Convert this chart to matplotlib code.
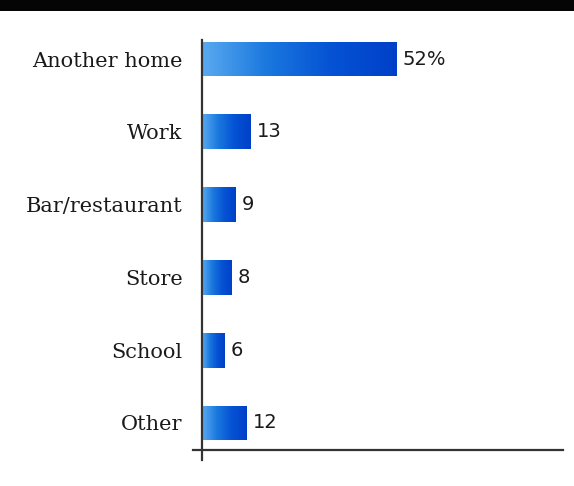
import matplotlib.pyplot as plt
import numpy as np
from matplotlib.patches import Rectangle
from matplotlib.colors import LinearSegmentedColormap

# data
places = ['Another home', 'Work', 'Bar/restaurant', 'Store', 'School', 'Other']
shares = [52, 13, 9, 8, 6, 12]
value_labels = ['52%', '13', '9', '8', '6', '12']

W, H = 574, 486
fig = plt.figure(figsize=(W / 100, H / 100), dpi=100)

# black band along the top edge
fig.patches.append(Rectangle((0, 1 - 11 / H), 1, 11 / H, transform=fig.transFigure,
                             facecolor='#050505', edgecolor='none', zorder=0))

ax = fig.add_axes([202 / W, 1 - 450 / H, (563 - 202) / W, (450 - 40) / H])

y = np.arange(len(places))
bars = ax.barh(y, shares, height=0.48, color='#1466d6', edgecolor='none', zorder=2)

# left-to-right blue gradient inside each bar
grad = LinearSegmentedColormap.from_list('blu', ['#5aaaf0', '#1a78de', '#0552d4', '#0040c8'])
ramp = np.linspace(0, 1, 256).reshape(1, -1)
for b in bars:
    x0, y0 = b.get_x(), b.get_y()
    im = ax.imshow(ramp, cmap=grad, aspect='auto', zorder=3,
                   extent=(x0, x0 + b.get_width(), y0 + b.get_height(), y0))
    im.set_clip_path(b)

for b, lab in zip(bars, value_labels):
    ax.text(b.get_width() + 1.6, b.get_y() + b.get_height() / 2, lab,
            va='center', ha='left', fontsize=14, color='#1a1a1a',
            family='DejaVu Sans')

ax.set_xlim(0, 96.3)
ax.set_ylim(5.371, -0.261)
ax.set_yticks(y)
ax.set_yticklabels(places, family='DejaVu Serif', fontsize=15, color='#1a1a1a')
ax.set_xticks([])
ax.tick_params(axis='y', length=0, pad=14)

for s in ax.spines.values():
    s.set_visible(False)

# axis lines, crossing at the origin
ax.plot([0, 0], [-10 / 410, 1], transform=ax.transAxes, color='#333333',
        lw=1.6, clip_on=False, zorder=4)
ax.plot([-9 / 361, 1], [0, 0], transform=ax.transAxes, color='#333333',
        lw=1.6, clip_on=False, zorder=4)

fig.savefig('out.png', dpi=100)
